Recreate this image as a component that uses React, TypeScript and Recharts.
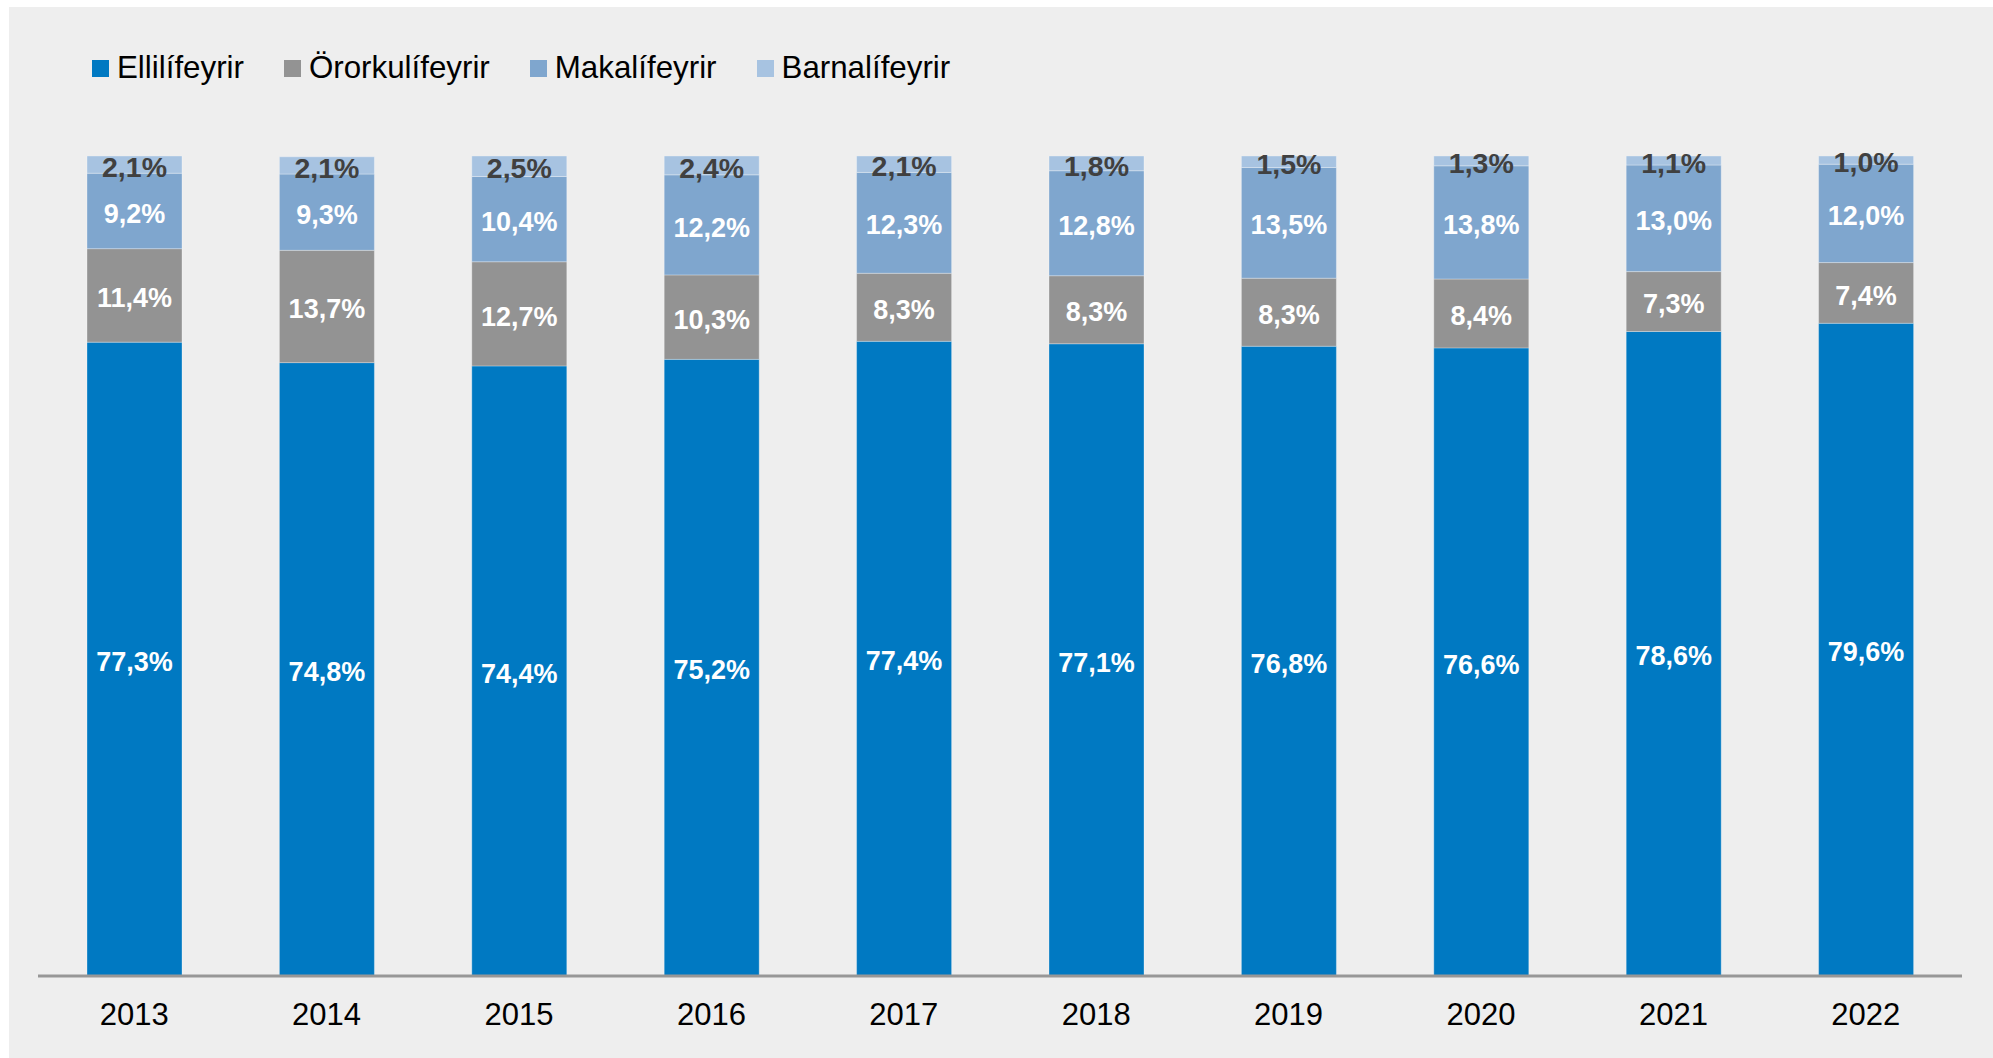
import { Bar, BarChart, LabelList, Legend, XAxis, YAxis } from 'recharts'

const years = ['2013', '2014', '2015', '2016', '2017', '2018', '2019', '2020', '2021', '2022']
const ellilifeyrir = [77.3, 74.8, 74.4, 75.2, 77.4, 77.1, 76.8, 76.6, 78.6, 79.6]
const orokulifeyrir = [11.4, 13.7, 12.7, 10.3, 8.3, 8.3, 8.3, 8.4, 7.3, 7.4]
const makalifeyrir = [9.2, 9.3, 10.4, 12.2, 12.3, 12.8, 13.5, 13.8, 13.0, 12.0]
const barnalifeyrir = [2.1, 2.1, 2.5, 2.4, 2.1, 1.8, 1.5, 1.3, 1.1, 1.0]

const series = [
  { key: 'elli', name: 'Ellilífeyrir', color: '#0079C2', label: '#FFFFFF', size: 27 },
  { key: 'ororku', name: 'Örorkulífeyrir', color: '#939393', label: '#FFFFFF', size: 27 },
  { key: 'maka', name: 'Makalífeyrir', color: '#7FA6CE', label: '#FFFFFF', size: 27 },
  { key: 'barna', name: 'Barnalífeyrir', color: '#A7C3E1', label: '#404040', size: 28.5 },
]

const data = years.map((year, i) => ({
  year,
  elli: ellilifeyrir[i],
  ororku: orokulifeyrir[i],
  maka: makalifeyrir[i],
  barna: barnalifeyrir[i],
}))

const FONT = 'Arial, "Liberation Sans", sans-serif'
const fmt = (v: number) => v.toFixed(1).replace('.', ',') + '%'

function SegmentLabel(props: any, fill: string, fontSize: number) {
  const box = props.viewBox ?? props
  const x = Number(box.x ?? props.x ?? 0)
  const y = Number(box.y ?? props.y ?? 0)
  const w = Number(box.width ?? props.width ?? 0)
  const h = Number(box.height ?? props.height ?? 0)
  const value = Number(props.value)
  return (
    <text
      x={x + w / 2}
      y={y + h / 2 + 2 + fontSize * 0.358}
      textAnchor="middle"
      fill={fill}
      fontSize={fontSize}
      fontWeight={700}
      fontFamily={FONT}
    >
      {fmt(value)}
    </text>
  )
}

function LegendContent() {
  return (
    <div style={{ display: 'flex', alignItems: 'center', fontFamily: FONT, fontSize: 31.3, lineHeight: '31px', color: '#000', whiteSpace: 'nowrap' }}>
      {series.map((s) => (
        <div key={s.key} style={{ display: 'flex', alignItems: 'center', marginRight: 40 }}>
          <span style={{ width: 17, height: 17, background: s.color, marginRight: 8, marginTop: 2, display: 'inline-block' }} />
          <span>{s.name}</span>
        </div>
      ))}
    </div>
  )
}

export default function App() {
  return (
    <div style={{ position: 'absolute', left: 0, top: 0, width: 1993, height: 1058, background: '#FFFFFF' }}>
      <div style={{ position: 'absolute', left: 9, top: 7, width: 1984, height: 1051, background: '#EEEEEE' }} />
      <div style={{ position: 'absolute', left: 0, top: 0 }}>
        <BarChart
          width={1993}
          height={1058}
          data={data}
          margin={{ top: 156, right: 31, bottom: 22, left: 38 }}
          barSize={95}
        >
          <XAxis
            dataKey="year"
            axisLine={{ stroke: '#979797', strokeWidth: 3 }}
            tickLine={false}
            tickSize={0}
            tickMargin={27}
            height={60}
            tick={{ fill: '#000000', fontSize: 31, fontFamily: FONT }}
            interval={0}
          />
          <YAxis hide domain={[0, 100]} allowDataOverflow />
          <Legend
            verticalAlign="middle"
            align="center"
            layout="horizontal"
            wrapperStyle={{ left: 92, top: 52, width: 1200 }}
            content={<LegendContent />}
          />
          {series.map((s) => (
            <Bar
              key={s.key}
              dataKey={s.key}
              name={s.name}
              stackId="a"
              fill={s.color}
              stroke="#FFFFFF"
              strokeOpacity={0.3}
              strokeWidth={1}
              isAnimationActive={false}
            >
              <LabelList dataKey={s.key} content={(p: any) => SegmentLabel(p, s.label, s.size)} />
            </Bar>
          ))}
        </BarChart>
      </div>
    </div>
  )
}
